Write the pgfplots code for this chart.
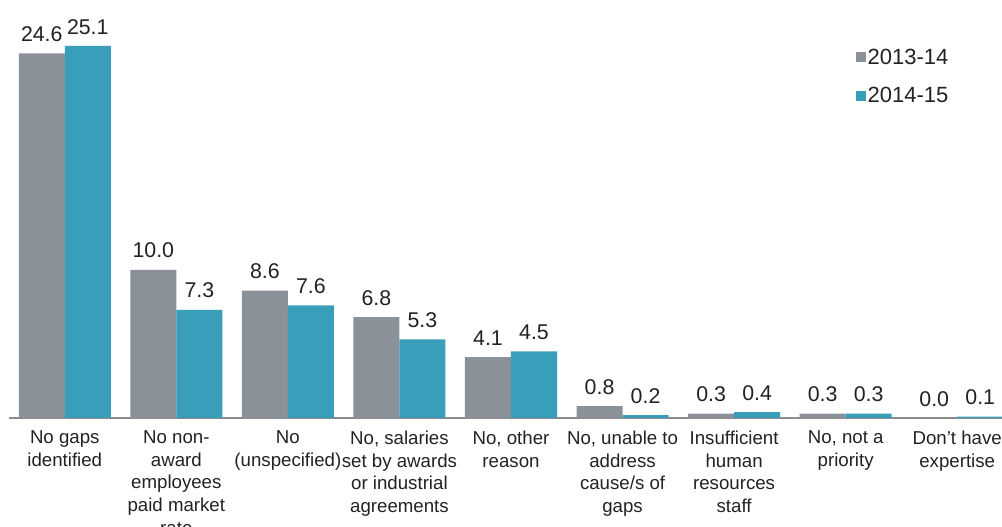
\documentclass[border=0pt]{standalone}
\usepackage{pgfplots}
\pgfplotsset{compat=1.18}
\usepackage{fontspec}
\setmainfont{Liberation Sans}
\definecolor{barGray}{RGB}{138,145,153}
\definecolor{barTeal}{RGB}{57,158,186}
\definecolor{txt}{RGB}{34,34,34}
\begin{document}
\begin{tikzpicture}
\begin{axis}[
  scale only axis,
  width=753pt, height=313.5pt,
  xmin=-0.5, xmax=8.5,
  ymin=0, ymax=28.2,
  ybar=0pt, bar width=34.5pt,
  hide y axis,
  axis x line*=bottom,
  x axis line style={draw=gray!90, line width=0.8pt},
  xtick={0,...,8},
  xticklabels={
    {No gaps\\identified},
    {No non-\\award\\employees\\paid market\\rate},
    {No\\(unspecified)},
    {No, salaries\\set by awards\\or industrial\\agreements},
    {No, other\\reason},
    {No, unable to\\address\\cause/s of\\gaps},
    {Insufficient\\human\\resources\\staff},
    {No, not a\\priority},
    {Don't have\\expertise}},
  major x tick style={draw=none},
  extra x ticks={-0.5,0.5,...,8.5},
  extra x tick labels={},
  extra x tick style={tick align=outside, major tick length=4pt,
    tick style={draw=gray!90, line width=0.8pt}},
  xticklabel style={align=center, font=\fontsize{14}{16.9}\selectfont, text=txt, yshift=-2pt},
  /pgf/number format/assume math mode=true,
  nodes near coords={\pgfmathprintnumber[fixed,fixed zerofill,precision=1]{\pgfplotspointmeta}},
  nodes near coords style={font=\fontsize{16}{18}\selectfont, text=txt, yshift=5.2pt},
  legend style={draw=none, at={(0.839,0.895)}, anchor=north west,
    font=\fontsize{16.5}{18}\selectfont, text=txt, row sep=13pt,
    legend cell align=left, nodes={inner sep=1.5pt}},
  legend image code/.code={\fill[#1] (0pt,-3.75pt) rectangle (7.5pt,3.75pt);},
]
\addplot[fill=barGray, draw=none] coordinates {
  (0,24.6) (1,10.0) (2,8.6) (3,6.8) (4,4.1) (5,0.8) (6,0.3) (7,0.3) (8,0.0)};
\addplot[fill=barTeal, draw=none] coordinates {
  (0,25.1) (1,7.3) (2,7.6) (3,5.3) (4,4.5) (5,0.2) (6,0.4) (7,0.3) (8,0.1)};
\legend{2013-14, 2014-15}
\coordinate (A) at (rel axis cs:0,0);
\end{axis}
\pgfresetboundingbox
\path[use as bounding box] ([shift={(-6.75pt,-81.75pt)}]A) rectangle ++(751.5pt,395.25pt);
\end{tikzpicture}
\end{document}
